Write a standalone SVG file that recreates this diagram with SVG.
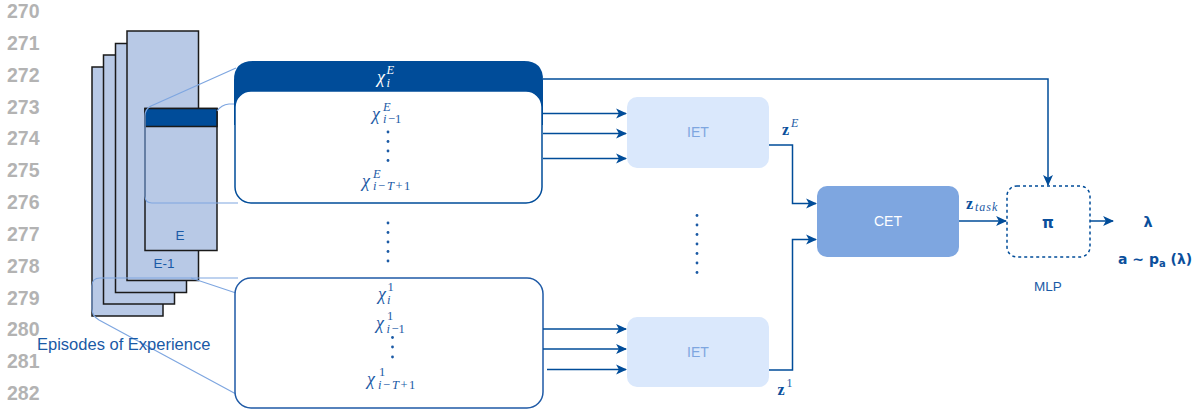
<svg xmlns="http://www.w3.org/2000/svg" width="1199" height="412" viewBox="0 0 1199 412">
  <style>
    .ln { font-family: "Liberation Sans", Arial, sans-serif; font-weight: bold; font-size: 19.5px; fill: #b3b3b3; }
    .lbl { font-family: "Liberation Sans", Arial, sans-serif; fill: #1a5aa6; }
    .ep { fill: #b8c9e6; stroke: #1a1a1a; stroke-width: 1.5; }
    .zoom { fill: none; stroke: #7ea6e0; stroke-width: 1.2; }
    .math { font-family: "Liberation Serif", "DejaVu Serif", serif; font-style: italic; fill: #1b5aa5; }
    .up { font-style: normal; }
    .wh { fill: #ffffff; }
    .bold { font-family: "DejaVu Sans", sans-serif; font-weight: bold; fill: #0b4f9c; }
    .conn { fill: none; stroke: #004c99; stroke-width: 1.5; }
    .iet { fill: #dae8fc; }
    .dot { fill: #1b5aa5; }
  </style>
  <defs>
    <marker id="arr" viewBox="0 0 10 10" refX="9" refY="5" markerWidth="11" markerHeight="11" markerUnits="userSpaceOnUse" orient="auto">
      <path d="M0,0.5 L10,5 L0,9.5 L2.5,5 Z" fill="#004c99"/>
    </marker>
  </defs>

  <!-- line numbers -->
  <g id="line-numbers">
    <text class="ln" x="7" y="18">270</text>
    <text class="ln" x="7" y="49.8">271</text>
    <text class="ln" x="7" y="81.7">272</text>
    <text class="ln" x="7" y="113.5">273</text>
    <text class="ln" x="7" y="145.3">274</text>
    <text class="ln" x="7" y="177.2">275</text>
    <text class="ln" x="7" y="209">276</text>
    <text class="ln" x="7" y="240.8">277</text>
    <text class="ln" x="7" y="272.7">278</text>
    <text class="ln" x="7" y="304.5">279</text>
    <text class="ln" x="7" y="336.3">280</text>
    <text class="ln" x="7" y="368.2">281</text>
    <text class="ln" x="7" y="400">282</text>
  </g>

  <!-- stack of episodes -->
  <g id="episodes">
    <rect class="ep" x="92" y="67" width="71" height="249"/>
    <rect class="ep" x="103.5" y="55" width="71" height="249"/>
    <rect class="ep" x="115.5" y="43.5" width="71" height="249"/>
    <rect class="ep" x="127" y="31" width="71.5" height="249.5"/>
    <text class="lbl" x="164" y="268" font-size="13.5" text-anchor="middle">E-1</text>
  </g>

  <g id="episode-E">
    <rect class="ep" x="145" y="108.5" width="72" height="142"/>
    <rect x="145" y="108.5" width="72" height="18" fill="#004c99" stroke="#1a1a1a" stroke-width="1.5"/>
    <text class="lbl" x="180" y="240" font-size="13.5" text-anchor="middle">E</text>
  </g>

  <!-- zoom-in guides -->
  <g id="zoom-guides">
    <path class="zoom" d="M236,68 L151,106 Q145,109 145,116 L145,196 Q145,203 152,203 L238,203"/>
    <path class="zoom" d="M217,111 Q221,105 229,104 L236,104"/>
    <path class="zoom" d="M238,278 L100,278 Q92,278 92,286 L92,309 Q92,316 99,320 L236,394"/>
    <path class="zoom" d="M191,278 L236,293"/>
  </g>

  <text id="episodes-label" class="lbl" x="37" y="350" font-size="16.5">Episodes of Experience</text>

  <!-- latest episode window -->
  <g id="window-E">
    <path d="M234,125 L234,80 Q234,61 253,61 L524,61 Q543,61 543,80 L543,125 Z" fill="#004c99"/>
    <rect x="235" y="91" width="307" height="112" rx="16" fill="#fff" stroke="#004c99" stroke-width="1.5"/>
    <text class="math wh" font-size="18" x="377" y="83">χ</text>
    <text class="math wh" font-size="12.5" x="386.5" y="74">E</text>
    <text class="math wh" font-size="12.5" x="386.5" y="87">i</text>

    <text class="math" font-size="18" x="372" y="120">χ</text>
    <text class="math" font-size="12.5" x="383" y="111">E</text>
    <text class="math" font-size="12.5" x="383" y="123">i<tspan class="up" dx="1.5">−1</tspan></text>

    <circle class="dot" cx="388" cy="132" r="1.4"/>
    <circle class="dot" cx="388" cy="141.5" r="1.4"/>
    <circle class="dot" cx="388" cy="151" r="1.4"/>
    <circle class="dot" cx="388" cy="160.5" r="1.4"/>

    <text class="math" font-size="18" x="362" y="187">χ</text>
    <text class="math" font-size="12.5" x="373" y="178">E</text>
    <text class="math" font-size="12.5" x="373" y="190">i<tspan class="up" dx="1.5">−</tspan><tspan dx="2">T</tspan><tspan class="up" dx="1.5">+</tspan><tspan class="up" dx="1.5">1</tspan></text>
  </g>

  <g id="between-dots">
    <circle class="dot" cx="388" cy="223" r="1.4"/>
    <circle class="dot" cx="388" cy="232.5" r="1.4"/>
    <circle class="dot" cx="388" cy="242" r="1.4"/>
    <circle class="dot" cx="388" cy="251.5" r="1.4"/>
    <circle class="dot" cx="388" cy="261" r="1.4"/>
  </g>

  <!-- first episode window -->
  <g id="window-1">
    <rect x="235" y="278" width="308" height="130" rx="16" fill="#fff" stroke="#1f5aa6" stroke-width="1.5"/>
    <text class="math" font-size="18" x="378" y="300">χ</text>
    <text class="math up" font-size="12.5" x="387.5" y="291">1</text>
    <text class="math" font-size="12.5" x="387" y="304">i</text>

    <text class="math" font-size="18" x="376" y="329">χ</text>
    <text class="math up" font-size="12.5" x="387" y="320">1</text>
    <text class="math" font-size="12.5" x="386.5" y="333">i<tspan class="up" dx="1.5">−1</tspan></text>

    <circle class="dot" cx="392.5" cy="337.5" r="1.4"/>
    <circle class="dot" cx="392.5" cy="347" r="1.4"/>
    <circle class="dot" cx="392.5" cy="357" r="1.4"/>

    <text class="math" font-size="18" x="367" y="385">χ</text>
    <text class="math up" font-size="12.5" x="379" y="376">1</text>
    <text class="math" font-size="12.5" x="378" y="389">i<tspan class="up" dx="1.5">−</tspan><tspan dx="2">T</tspan><tspan class="up" dx="1.5">+</tspan><tspan class="up" dx="1.5">1</tspan></text>
  </g>

  <!-- encoders -->
  <g id="iet-E">
    <rect class="iet" x="627" y="97" width="142" height="71" rx="10"/>
    <text class="lbl" x="698" y="137" font-size="14" text-anchor="middle" style="fill:#7ea6e0">IET</text>
  </g>

  <g id="iet-dots">
    <circle class="dot" cx="697" cy="215.5" r="1.4"/>
    <circle class="dot" cx="697" cy="225" r="1.4"/>
    <circle class="dot" cx="697" cy="234.5" r="1.4"/>
    <circle class="dot" cx="697" cy="244" r="1.4"/>
    <circle class="dot" cx="697" cy="253.5" r="1.4"/>
    <circle class="dot" cx="697" cy="263" r="1.4"/>
    <circle class="dot" cx="697" cy="272.5" r="1.4"/>
  </g>

  <g id="iet-1">
    <rect class="iet" x="627" y="317" width="142" height="70" rx="10"/>
    <text class="lbl" x="698" y="357" font-size="14" text-anchor="middle" style="fill:#7ea6e0">IET</text>
  </g>

  <g id="cet">
    <rect x="817" y="186" width="142" height="71" rx="10" fill="#7ea6e0"/>
    <text class="lbl" x="888" y="226" font-size="14" text-anchor="middle" style="fill:#fff">CET</text>
  </g>

  <g id="mlp">
    <rect x="1007" y="186" width="83" height="71" rx="10" fill="none" stroke="#004c99" stroke-width="1.5" stroke-dasharray="3 3"/>
    <text class="bold" x="1048" y="228" font-size="15" text-anchor="middle">π</text>
    <text class="lbl" x="1048" y="291" font-size="13.5" text-anchor="middle">MLP</text>
  </g>

  <g id="outputs">
    <text class="bold" x="1148" y="227" font-size="14.5" text-anchor="middle">λ</text>
    <text class="bold" x="1118" y="264" font-size="14">a ~ p<tspan font-size="10" dy="3">a</tspan><tspan dy="-3"> (λ)</tspan></text>
  </g>

  <!-- connectors -->
  <g id="connectors">
    <path class="conn" d="M543,79 L1048,79 L1048,185" marker-end="url(#arr)"/>
    <path class="conn" d="M543,113.5 L626,113.5" marker-end="url(#arr)"/>
    <path class="conn" d="M543,133.5 L626,133.5" marker-end="url(#arr)"/>
    <path class="conn" d="M543,158.5 L626,158.5" marker-end="url(#arr)"/>
    <path class="conn" d="M543,329 L626,329" marker-end="url(#arr)"/>
    <path class="conn" d="M543,349 L626,349" marker-end="url(#arr)"/>
    <path class="conn" d="M547,369.5 L626,369.5" marker-end="url(#arr)"/>
    <path class="conn" d="M769,145 L792.5,145 L792.5,203.5 L816,203.5" marker-end="url(#arr)"/>
    <path class="conn" d="M769,370 L792.5,370 L792.5,239.5 L816,239.5" marker-end="url(#arr)"/>
    <path class="conn" d="M959,221 L1006,221" marker-end="url(#arr)"/>
    <path class="conn" d="M1090,221 L1113,221" marker-end="url(#arr)"/>
  </g>

  <!-- embedding labels -->
  <g id="edge-labels">
    <text x="782" y="135" font-family="Liberation Serif, serif" font-weight="bold" font-size="16" fill="#0b4f9c">z</text>
    <text x="791" y="127" font-family="Liberation Serif, serif" font-style="italic" font-size="12" fill="#1b5aa5">E</text>
    <text x="777.5" y="395" font-family="Liberation Serif, serif" font-weight="bold" font-size="16" fill="#0b4f9c">z</text>
    <text x="786.5" y="387" font-family="Liberation Serif, serif" font-size="12" fill="#1b5aa5">1</text>
    <text x="966" y="209" font-family="Liberation Serif, serif" font-weight="bold" font-size="16" fill="#0b4f9c">z</text>
    <text x="975" y="211" font-family="Liberation Serif, serif" font-style="italic" font-size="12" fill="#1b5aa5" letter-spacing="1">task</text>
  </g>
</svg>
